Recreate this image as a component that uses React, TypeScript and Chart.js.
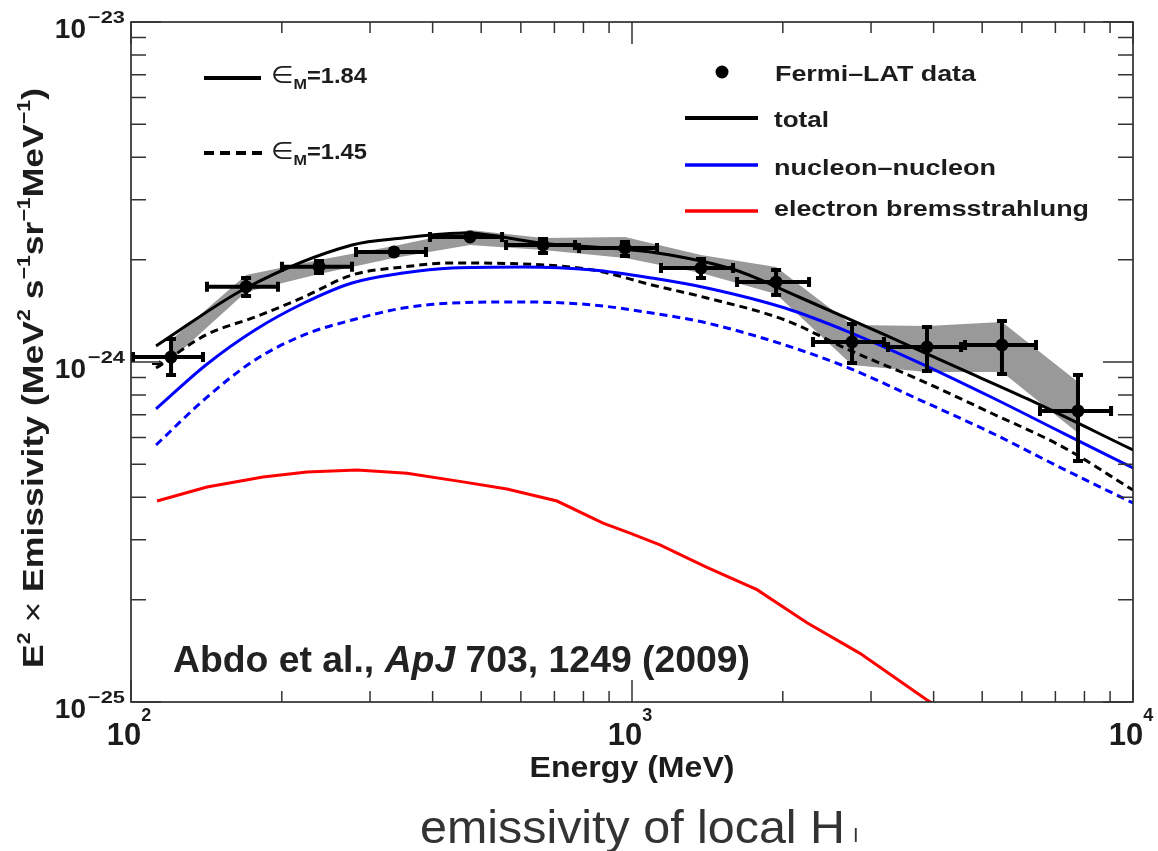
import React, { useEffect, useRef } from 'react';
import { Chart, registerables } from 'chart.js';

Chart.register(...registerables);

// ---------- Fermi-LAT data ----------
const energyMeV = [120.2, 169.7, 237.3, 334.9, 475.0, 664.4, 968.3, 1373, 1939, 2749, 3880, 5476, 7766];
const emissivity = [1.034e-24, 1.666e-24, 1.907e-24, 2.106e-24, 2.332e-24, 2.209e-24, 2.164e-24, 1.890e-24, 1.719e-24, 1.145e-24, 1.107e-24, 1.122e-24, 7.18e-25];
const binLow = [100, 140.5, 198.3, 278.7, 391.5, 555.4, 776.8, 1132, 1606, 2277, 3214, 4579, 6462];
const binHigh = [140.5, 198.3, 278.7, 391.5, 555.4, 776.8, 1132, 1606, 2277, 3214, 4579, 6462, 9124];
const errLow = [9.03e-25, 1.543e-24, 1.803e-24, 2.037e-24, 2.270e-24, 2.064e-24, 2.023e-24, 1.743e-24, 1.553e-24, 9.80e-25, 9.28e-25, 9.09e-25, 5.05e-25];
const errHigh = [1.185e-24, 1.790e-24, 2.009e-24, 2.180e-24, 2.395e-24, 2.332e-24, 2.285e-24, 2.037e-24, 1.890e-24, 1.311e-24, 1.284e-24, 1.338e-24, 9.28e-25];

// ---------- systematic band ----------
const bandUpper = [1.161e-24, 1.803e-24, 1.995e-24, 2.195e-24, 2.444e-24, 2.316e-24, 2.332e-24, 2.064e-24, 1.903e-24, 1.284e-24, 1.276e-24, 1.311e-24, 8.73e-25];
const bandLower = [1.014e-24, 1.606e-24, 1.815e-24, 2.023e-24, 2.209e-24, 2.136e-24, 2.023e-24, 1.827e-24, 1.585e-24, 9.80e-25, 9.34e-25, 9.34e-25, 6.18e-25];

// ---------- model curves ----------
const totalE = [112.2, 169.7, 276.2, 349.1, 466.3, 655.3, 1122, 1606, 2154, 3199, 4434, 6143, 10000];
const total184 = [1.115e-24, 1.651e-24, 2.209e-24, 2.316e-24, 2.395e-24, 2.239e-24, 2.093e-24, 1.865e-24, 1.553e-24, 1.201e-24, 9.67e-25, 7.80e-25, 5.51e-25];

const modelE = [112.2, 141.1, 176.8, 221.4, 276.2, 349.1, 437.2, 605.8, 836.0, 1096, 1411, 2020, 2711, 3757, 5208, 7250, 10000];
const nucleon184 = [7.28e-25, 9.80e-25, 1.242e-24, 1.491e-24, 1.708e-24, 1.827e-24, 1.890e-24, 1.903e-24, 1.865e-24, 1.766e-24, 1.651e-24, 1.441e-24, 1.225e-24, 9.93e-25, 7.89e-25, 6.18e-25, 4.88e-25];
const total145 = [9.60e-25, 1.201e-24, 1.356e-24, 1.553e-24, 1.803e-24, 1.903e-24, 1.955e-24, 1.942e-24, 1.865e-24, 1.685e-24, 1.543e-24, 1.329e-24, 1.085e-24, 8.85e-25, 7.08e-25, 5.62e-25, 4.20e-25];
const nucleon145 = [5.70e-25, 7.83e-25, 1.014e-24, 1.201e-24, 1.329e-24, 1.441e-24, 1.491e-24, 1.502e-24, 1.471e-24, 1.393e-24, 1.302e-24, 1.122e-24, 9.60e-25, 7.73e-25, 6.20e-25, 4.85e-25, 3.85e-25];

const bremsE = [112.7, 141.8, 183.4, 224.5, 282.6, 355.6, 459.9, 562.9, 708.5, 875.3, 990.9, 1137, 1411, 1776, 2235, 2851, 3880, 4515];
const brems = [3.90e-25, 4.29e-25, 4.59e-25, 4.75e-25, 4.81e-25, 4.71e-25, 4.44e-25, 4.23e-25, 3.90e-25, 3.36e-25, 3.14e-25, 2.90e-25, 2.49e-25, 2.14e-25, 1.71e-25, 1.39e-25, 1.014e-25, 8.85e-26];

// ---------- axes ----------
const xMajorTicks = [100, 1000, 10000];
const xTickExponents = ['2', '3', '4'];
const xMinorTicks = [200, 300, 400, 500, 600, 700, 800, 900, 2000, 3000, 4000, 5000, 6000, 7000, 8000, 9000];
const yMajorTicks = [1e-23, 1e-24, 1e-25];
const yTickExponents = ['\u221223', '\u221224', '\u221225'];
const yMinorTicks = [9e-24, 8e-24, 7e-24, 6e-24, 5e-24, 4e-24, 3e-24, 2e-24, 9e-25, 8e-25, 7e-25, 6e-25, 5e-25, 4e-25, 3e-25, 2e-25];

const legendLabels = ['Fermi\u2013LAT data', 'total', 'nucleon\u2013nucleon', 'electron bremsstrahlung'];
const modelLabels = ['1.84', '1.45'];

const FAM = '"Liberation Sans", Arial, "DejaVu Sans", sans-serif';
const TEXT = '#1c1c1c';

type Run = { t: string; s: number; w?: string; i?: boolean; dy?: number };

function setFont(ctx: CanvasRenderingContext2D, r: Run) {
  ctx.font = `${r.i ? 'italic ' : ''}${r.w || 'bold'} ${r.s}px ${FAM}`;
}
function runsWidth(ctx: CanvasRenderingContext2D, runs: Run[]) {
  let w = 0;
  for (const r of runs) {
    setFont(ctx, r);
    w += ctx.measureText(r.t).width;
  }
  return w;
}
function drawRuns(
  ctx: CanvasRenderingContext2D,
  runs: Run[],
  x: number,
  y: number,
  opts: { align?: 'left' | 'center' | 'right'; width?: number; color?: string; rotate?: number } = {}
) {
  ctx.save();
  ctx.translate(x, y);
  if (opts.rotate) ctx.rotate(opts.rotate);
  const nat = runsWidth(ctx, runs);
  const sx = opts.width ? opts.width / nat : 1;
  ctx.scale(sx, 1);
  const align = opts.align || 'left';
  let cx = align === 'left' ? 0 : align === 'center' ? -nat / 2 : -nat;
  ctx.fillStyle = opts.color || TEXT;
  ctx.textBaseline = 'alphabetic';
  ctx.textAlign = 'left';
  for (const r of runs) {
    setFont(ctx, r);
    ctx.fillText(r.t, cx, r.dy || 0);
    cx += ctx.measureText(r.t).width;
  }
  ctx.restore();
}

const pts = (xs: number[], ys: number[]) => xs.map((x, i) => ({ x, y: ys[i] }));

const errorBarPlugin = {
  id: 'errorBars',
  afterDatasetsDraw(chart: any) {
    const { ctx, scales } = chart;
    const xs = scales.x;
    const ys = scales.y;
    ctx.save();
    ctx.strokeStyle = '#000';
    ctx.lineWidth = 4;
    ctx.lineCap = 'butt';
    for (let i = 0; i < energyMeV.length; i++) {
      const px = xs.getPixelForValue(energyMeV[i]);
      const py = ys.getPixelForValue(emissivity[i]);
      const x0 = xs.getPixelForValue(binLow[i]);
      const x1 = xs.getPixelForValue(binHigh[i]);
      const y0 = ys.getPixelForValue(errLow[i]);
      const y1 = ys.getPixelForValue(errHigh[i]);
      ctx.beginPath();
      ctx.moveTo(x0, py); ctx.lineTo(x1, py);
      ctx.moveTo(px, y0); ctx.lineTo(px, y1);
      ctx.moveTo(x0 + 2, py - 5); ctx.lineTo(x0 + 2, py + 5);
      ctx.moveTo(x1 - 2, py - 5); ctx.lineTo(x1 - 2, py + 5);
      ctx.moveTo(px - 5, y0 - 2); ctx.lineTo(px + 5, y0 - 2);
      ctx.moveTo(px - 5, y1 + 2); ctx.lineTo(px + 5, y1 + 2);
      ctx.stroke();
    }
    // small arrow marker next to the first point (as in the original figure)
    const ax = xs.getPixelForValue(energyMeV[0]);
    const ay = ys.getPixelForValue(emissivity[0]);
    ctx.lineWidth = 2;
    ctx.beginPath();
    ctx.moveTo(ax - 19, ay + 7); ctx.lineTo(ax - 8, ay + 7);
    ctx.moveTo(ax - 8, ay + 7); ctx.lineTo(ax - 12, ay + 4);
    ctx.moveTo(ax - 8, ay + 7); ctx.lineTo(ax - 12, ay + 10);
    ctx.stroke();
    ctx.restore();
  },
};

const decorPlugin = {
  id: 'decor',
  afterDraw(chart: any) {
    const { ctx, scales, chartArea } = chart;
    const xs = scales.x;
    const ys = scales.y;
    const { left, right, top, bottom } = chartArea;
    ctx.save();
    ctx.strokeStyle = '#222';
    ctx.lineWidth = 1.6;
    ctx.strokeRect(left, top, right - left, bottom - top);
    ctx.lineWidth = 1.5;
    ctx.strokeStyle = '#333';
    ctx.beginPath();
    for (const v of xMinorTicks) {
      const p = xs.getPixelForValue(v);
      ctx.moveTo(p, bottom); ctx.lineTo(p, bottom - 11);
      ctx.moveTo(p, top); ctx.lineTo(p, top + 11);
    }
    for (const v of xMajorTicks) {
      const p = xs.getPixelForValue(v);
      ctx.moveTo(p, bottom); ctx.lineTo(p, bottom - 22);
      ctx.moveTo(p, top); ctx.lineTo(p, top + 22);
    }
    for (const v of yMinorTicks) {
      const p = ys.getPixelForValue(v);
      ctx.moveTo(left, p); ctx.lineTo(left + 15, p);
      ctx.moveTo(right, p); ctx.lineTo(right - 15, p);
    }
    for (const v of yMajorTicks) {
      const p = ys.getPixelForValue(v);
      ctx.moveTo(left, p); ctx.lineTo(left + 30, p);
      ctx.moveTo(right, p); ctx.lineTo(right - 30, p);
    }
    ctx.stroke();

    // tick labels
    xMajorTicks.forEach((v, i) => {
      const p = xs.getPixelForValue(v);
      drawRuns(ctx, [{ t: '10', s: 31 }, { t: xTickExponents[i], s: 18, dy: -24 }], p - 2, 745, { align: 'center' });
    });
    yMajorTicks.forEach((v, i) => {
      const p = ys.getPixelForValue(v);
      drawRuns(ctx, [{ t: '10', s: 28 }], 86, p + 16, { align: 'right' });
      drawRuns(ctx, [{ t: yTickExponents[i], s: 17 }], 88, p + 1, { width: 37 });
    });

    // axis titles
    drawRuns(ctx, [{ t: 'Energy (MeV)', s: 30 }], 632, 777, { align: 'center', width: 205 });
    const S = 18;
    const T = 30;
    drawRuns(
      ctx,
      [
        { t: 'E', s: T },
        { t: '2', s: S, dy: -13 },
        { t: ' \u00d7 ', s: T, w: 'normal' },
        { t: 'Emissivity (MeV', s: T },
        { t: '2', s: S, dy: -13 },
        { t: ' s', s: T },
        { t: '\u22121', s: S, dy: -13 },
        { t: 'sr', s: T },
        { t: '\u22121', s: S, dy: -13 },
        { t: 'MeV', s: T },
        { t: '\u22121', s: S, dy: -13 },
        { t: ')', s: T },
      ],
      43,
      378,
      { align: 'center', width: 580, rotate: -Math.PI / 2 }
    );

    // left legend (epsilon_M)
    ctx.strokeStyle = '#000';
    ctx.lineWidth = 4;
    ctx.beginPath();
    ctx.moveTo(204, 78); ctx.lineTo(261, 78);
    ctx.stroke();
    ctx.setLineDash([10, 6]);
    ctx.beginPath();
    ctx.moveTo(204, 153); ctx.lineTo(262, 153);
    ctx.stroke();
    ctx.setLineDash([]);
    drawRuns(ctx, [{ t: '\u2208', s: 24, w: 'normal' }, { t: 'M', s: 15, dy: 6 }, { t: '=' + modelLabels[0], s: 22 }], 271, 83, { width: 96 });
    drawRuns(ctx, [{ t: '\u2208', s: 24, w: 'normal' }, { t: 'M', s: 15, dy: 6 }, { t: '=' + modelLabels[1], s: 22 }], 271, 159, { width: 96 });

    // right legend
    ctx.fillStyle = '#000';
    ctx.beginPath();
    ctx.arc(722, 72, 6.5, 0, Math.PI * 2);
    ctx.fill();
    ctx.lineWidth = 4;
    ctx.strokeStyle = '#000';
    ctx.beginPath(); ctx.moveTo(685, 118); ctx.lineTo(758, 118); ctx.stroke();
    ctx.lineWidth = 3.4;
    ctx.strokeStyle = '#0000ff';
    ctx.beginPath(); ctx.moveTo(685, 165); ctx.lineTo(758, 165); ctx.stroke();
    ctx.strokeStyle = '#ff0000';
    ctx.beginPath(); ctx.moveTo(685, 211); ctx.lineTo(758, 211); ctx.stroke();
    drawRuns(ctx, [{ t: legendLabels[0], s: 22 }], 775, 81, { width: 201 });
    drawRuns(ctx, [{ t: legendLabels[1], s: 22 }], 774, 127, { width: 55 });
    drawRuns(ctx, [{ t: legendLabels[2], s: 22 }], 774, 175, { width: 222 });
    drawRuns(ctx, [{ t: legendLabels[3], s: 22 }], 774, 216, { width: 315 });

    // citation
    drawRuns(
      ctx,
      [
        { t: 'Abdo et al., ', s: 37 },
        { t: 'ApJ', s: 37, i: true },
        { t: ' 703, 1249 (2009)', s: 37 },
      ],
      173,
      672,
      { width: 577, color: '#222' }
    );

    // caption
    drawRuns(ctx, [{ t: 'emissivity of local H', s: 46, w: 'normal' }], 420, 843, { width: 425, color: '#333' });
    drawRuns(ctx, [{ t: 'I', s: 20, w: 'normal' }], 853, 842, { color: '#333' });
    ctx.restore();
  },
};

export default function App() {
  const ref = useRef<HTMLCanvasElement>(null);
  useEffect(() => {
    if (!ref.current) return;
    const chart = new Chart(ref.current, {
      type: 'line',
      data: {
        datasets: [
          {
            label: legendLabels[0],
            data: pts(energyMeV, emissivity),
            showLine: false,
            pointRadius: 6.5,
            pointBackgroundColor: '#000',
            pointBorderWidth: 0,
            borderColor: '#000',
            order: 0,
          },
          {
            label: 'total 1.84',
            data: pts(totalE, total184),
            borderColor: '#000',
            borderWidth: 3,
            pointRadius: 0,
            cubicInterpolationMode: 'monotone',
            order: 1,
          },
          {
            label: 'nucleon 1.84',
            data: pts(modelE, nucleon184),
            borderColor: '#0000ff',
            borderWidth: 3,
            pointRadius: 0,
            cubicInterpolationMode: 'monotone',
            order: 2,
          },
          {
            label: 'total 1.45',
            data: pts(modelE, total145),
            borderColor: '#000',
            borderWidth: 3,
            borderDash: [8, 5],
            pointRadius: 0,
            cubicInterpolationMode: 'monotone',
            order: 3,
          },
          {
            label: 'nucleon 1.45',
            data: pts(modelE, nucleon145),
            borderColor: '#0000ff',
            borderWidth: 3,
            borderDash: [8, 5],
            pointRadius: 0,
            cubicInterpolationMode: 'monotone',
            order: 4,
          },
          {
            label: 'bremsstrahlung',
            data: pts(bremsE, brems),
            borderColor: '#ff0000',
            borderWidth: 3,
            pointRadius: 0,
            tension: 0,
            order: 5,
          },
          {
            label: 'band upper',
            data: pts(energyMeV, bandUpper),
            borderWidth: 0,
            borderColor: 'rgba(0,0,0,0)',
            backgroundColor: '#999999',
            pointRadius: 0,
            fill: '+1',
            tension: 0,
            order: 10,
          },
          {
            label: 'band lower',
            data: pts(energyMeV, bandLower),
            borderWidth: 0,
            borderColor: 'rgba(0,0,0,0)',
            pointRadius: 0,
            fill: false,
            tension: 0,
            order: 11,
          },
        ],
      } as any,
      options: {
        responsive: false,
        animation: false,
        layout: { padding: { left: 131, top: 22, right: 25, bottom: 149 } },
        scales: {
          x: { type: 'logarithmic', min: 100, max: 10000, display: false },
          y: { type: 'logarithmic', min: 1e-25, max: 1e-23, display: false },
        },
        plugins: {
          legend: { display: false },
          tooltip: { enabled: false },
        },
      } as any,
      plugins: [errorBarPlugin, decorPlugin],
    });
    return () => chart.destroy();
  }, []);
  return (
    <div style={{ position: 'absolute', left: 0, top: 0, width: 1158, height: 851, background: '#fff' }}>
      <canvas ref={ref} width={1158} height={851} style={{ display: 'block', width: 1158, height: 851 }} />
    </div>
  );
}
